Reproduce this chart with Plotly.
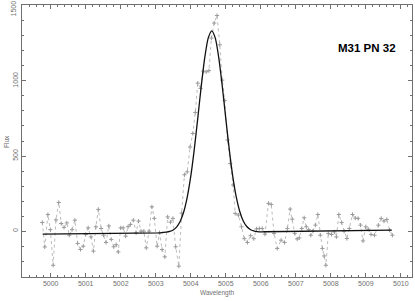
import plotly.graph_objects as go

# Observed spectrum (wavelength in Angstrom, flux)
wavelength = [4999.76, 4999.83, 4999.92, 4999.99, 5000.07, 5000.15, 5000.23, 5000.30, 5000.38, 5000.46,
              5000.53, 5000.61, 5000.69, 5000.77, 5000.85, 5000.93, 5001.00, 5001.07, 5001.15, 5001.22,
              5001.29, 5001.36, 5001.44, 5001.51, 5001.58, 5001.66, 5001.73, 5001.80, 5001.87, 5001.93,
              5002.00, 5002.07, 5002.14, 5002.21, 5002.28, 5002.36, 5002.44, 5002.51, 5002.58, 5002.66,
              5002.73, 5002.81, 5002.89, 5002.96, 5003.04, 5003.11, 5003.18, 5003.26, 5003.34, 5003.42,
              5003.49, 5003.57, 5003.66, 5003.74, 5003.82, 5003.90, 5003.98, 5004.06, 5004.13, 5004.20,
              5004.28, 5004.36, 5004.44, 5004.52, 5004.59, 5004.67, 5004.75, 5004.83, 5004.90, 5004.97,
              5005.05, 5005.13, 5005.21, 5005.27, 5005.36, 5005.45, 5005.53, 5005.62, 5005.71, 5005.80,
              5005.88, 5005.96, 5006.04, 5006.12, 5006.22, 5006.30, 5006.38, 5006.47, 5006.58, 5006.68,
              5006.76, 5006.84, 5006.90, 5006.97, 5007.04, 5007.10, 5007.17, 5007.24, 5007.30, 5007.37,
              5007.43, 5007.49, 5007.56, 5007.63, 5007.70, 5007.76, 5007.81, 5007.86, 5007.93, 5008.02,
              5008.10, 5008.16, 5008.23, 5008.31, 5008.38, 5008.46, 5008.53, 5008.62, 5008.70, 5008.78,
              5008.85, 5008.92, 5009.00, 5009.07, 5009.15, 5009.25, 5009.36, 5009.44, 5009.52, 5009.60,
              5009.68, 5009.76]
flux = [58, -105, 111, 10, -227, 75, 191, 51, 25, 55,
        -27, 10, 73, -82, -122, -100, -22, 22, -38, -133,
        29, 145, 18, -27, -75, 35, -55, -104, -90, -138,
        22, 22, -33, 30, 45, 73, -11, 67, 0, 0,
        -111, 0, 162, 85, -100, -10, -122, -171, 95, 60,
        85, -104, -233, 120, 375, 395, 560, 650, 790, 985,
        950, 1065, 1060, 1068, 1285, 1385, 1435, 1240, 1005, 870,
        607, 450, 307, 118, 107, 29, -50, -75, -30, -50,
        15, 18, 18, -20, 185, 178, -15, -115, -60, -75,
        18, 147, 80, -15, -52, -45, 18, 89, 29, 10,
        -27, 0, 40, 111, -27, -115, -165, -227, -15, -22,
        -5, -38, 111, 58, 0, -49, 18, 111, 87, 85,
        40, -65, 29, 13, -22, -27, 40, 85, 67, 78,
        7, -27]

# Fitted profile (Gaussian + continuum)
fit_wavelength = [4999.77, 5003.1, 5003.2, 5003.3, 5003.4, 5003.5, 5003.6, 5003.7, 5003.8, 5003.9,
                  5004.0, 5004.1, 5004.2, 5004.3, 5004.4, 5004.5, 5004.6, 5004.7, 5004.8, 5004.9,
                  5005.0, 5005.1, 5005.2, 5005.3, 5005.4, 5005.5, 5005.6, 5005.7, 5005.8, 5005.9,
                  5006.0, 5006.1, 5009.74]
fit_flux = [-20, -11, -9, -7, -2, 8, 29, 66, 129, 227,
            364, 543, 751, 965, 1155, 1286, 1333, 1286, 1155, 966,
            752, 544, 365, 228, 131, 68, 31, 11, 2, -3,
            -5, -4, 7]

x_ticks = [5000, 5001, 5002, 5003, 5004, 5005, 5006, 5007, 5008, 5009, 5010]
y_ticks = [0, 500, 1000, 1500]
label_text = "M31 PN 32"
x_title = "Wavelength"
y_title = "Flux"

axis_color = "#707070"
FONT = "Liberation Sans, Arial, sans-serif"
font_tick = dict(family=FONT, size=7, color="#707070")
font_title = dict(family=FONT, size=6.5, color="#707070")

fig = go.Figure()
fig.add_trace(go.Scatter(
    x=wavelength, y=flux, mode="lines+markers",
    line=dict(color="#b4b4b4", width=0.9, dash="dot"),
    marker=dict(symbol="cross-thin", size=3, line=dict(color="#9a9a9a", width=1)),
    showlegend=False, hoverinfo="skip"))
fig.add_trace(go.Scatter(
    x=fit_wavelength, y=fit_flux, mode="lines",
    line=dict(color="#111111", width=1.3, shape="spline", smoothing=0.6),
    showlegend=False, hoverinfo="skip"))

# the top y tick label sits just inside the page, as in the reference
y_ticktext = [str(v) if v != y_ticks[-1] else "" for v in y_ticks]

fig.update_layout(
    width=415, height=301,
    margin=dict(l=22, r=3, t=5, b=24, autoexpand=False),
    paper_bgcolor="white", plot_bgcolor="white",
    font=font_tick,
    annotations=[
        dict(text="<b>" + label_text + "</b>", x=367, y=48, xref="paper", yref="paper",
             showarrow=False, xanchor="center", yanchor="middle",
             font=dict(family=FONT, size=11.5, color="#000000")),
        dict(text=x_title, x=217, y=293, xref="paper", yref="paper", showarrow=False,
             xanchor="center", yanchor="middle", font=font_title),
        dict(text=y_title, x=6, y=142, xref="paper", yref="paper", showarrow=False, textangle=-90,
             xanchor="center", yanchor="middle", font=font_title),
        dict(text=str(y_ticks[-1]), x=13, y=8.5, xref="paper", yref="paper", showarrow=False,
             textangle=-90, xanchor="center", yanchor="middle", font=font_tick),
    ],
)
# convert pixel positions of annotations to paper coords
pw, ph = 415 - 22 - 3, 301 - 5 - 24
for a in fig.layout.annotations:
    a.x = (a.x - 22) / pw
    a.y = (301 - 24 - a.y) / ph

fig.update_xaxes(
    range=[4999.18, 5010.32], tickvals=x_ticks, ticktext=[str(v) for v in x_ticks],
    showgrid=False, zeroline=False, showline=True, linecolor=axis_color, linewidth=1,
    mirror="allticks", ticks="inside", ticklen=4, tickcolor=axis_color, tickwidth=1,
    minor=dict(dtick=0.2, tick0=5000, ticks="inside", ticklen=2, tickcolor=axis_color, showgrid=False),
    tickfont=font_tick, automargin=False, ticklabeloverflow="allow",
)
fig.update_yaxes(
    range=[-305, 1505], tickvals=y_ticks, ticktext=y_ticktext,
    showgrid=False, zeroline=False, showline=True, linecolor=axis_color, linewidth=1,
    mirror="allticks", ticks="inside", ticklen=4, tickcolor=axis_color, tickwidth=1,
    minor=dict(dtick=100, tick0=0, ticks="inside", ticklen=2, tickcolor=axis_color, showgrid=False),
    tickangle=-90, tickfont=font_tick, automargin=False, ticklabeloverflow="allow",
)

fig.write_html("out.html", config={"staticPlot": True, "displayModeBar": False},
               post_script="document.body.style.margin='0';document.body.style.padding='0';")
